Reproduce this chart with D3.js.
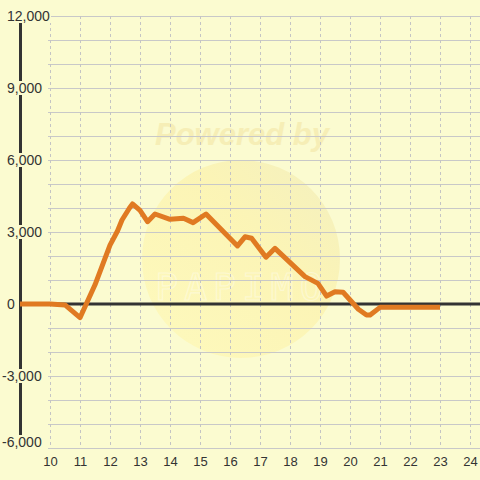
<!DOCTYPE html>
<html><head><meta charset="utf-8">
<script src="https://cdn.jsdelivr.net/npm/d3@7"></script>
<style>html,body{margin:0;padding:0;background:#fafad2;}svg{display:block;}</style>
</head><body>
<svg id="c" width="480" height="480"></svg>
<script>
const xTicks = [10,11,12,13,14,15,16,17,18,19,20,21,22,23,24];
const yTicks = [-6000,-3000,0,3000,6000,9000,12000];
const xs = [9,10,10.5,11,11.5,12,12.25,12.4,12.65,12.75,13,13.25,13.5,14,14.45,14.77,15.2,16.25,16.5,16.72,17.2,17.5,18.5,18.93,19.22,19.5,19.77,20.28,20.55,20.67,21,23];
const vals = [0,0,-40,-570,800,2450,3040,3500,4000,4170,3900,3430,3750,3530,3570,3390,3750,2420,2800,2740,1950,2320,1140,860,330,510,490,-220,-460,-460,-140,-140];

const svg = d3.select("#c");
const W=480,H=480;
const x = d3.scaleLinear().domain([9, 24.333]).range([20, 480]);
const y = d3.scaleLinear().domain([-6000, 12000]).range([448, 16]);
const bg = "#fbfbd0";

svg.append("rect").attr("width",W).attr("height",H).attr("fill",bg);

// watermark
const defs = svg.append("defs");
const g1 = defs.append("linearGradient").attr("id","wm").attr("x1","0").attr("y1","1").attr("x2","1").attr("y2","0");
g1.append("stop").attr("offset","0%").attr("stop-color","#fff8b0").attr("stop-opacity",0.6);
g1.append("stop").attr("offset","60%").attr("stop-color","#fcf0a4").attr("stop-opacity",0.6);
g1.append("stop").attr("offset","100%").attr("stop-color","#eee8b4").attr("stop-opacity",0.6);
svg.append("circle").attr("cx",241).attr("cy",259).attr("r",99).attr("fill","url(#wm)");
svg.append("text").attr("x",242).attr("y",145).attr("text-anchor","middle")
  .attr("font-family","Liberation Sans, Arial, sans-serif").attr("font-size",31)
  .attr("font-weight","bold").attr("font-style","italic")
  .attr("fill","#f3e7a6").attr("opacity",0.6).text("Powered by");
svg.append("text").attr("x",242).attr("y",300).attr("text-anchor","middle")
  .attr("font-family","DejaVu Sans Mono, monospace").attr("font-size",38)
  .attr("fill","none").attr("stroke","#ffffff").attr("stroke-width",1.2).attr("opacity",0.35)
  .attr("letter-spacing",6).text("PAPIMO");

// horizontal gridlines every 1000
const hg = d3.range(-6000, 12001, 1000);
svg.append("g").selectAll("line").data(hg).join("line")
  .attr("x1",48).attr("x2",480).attr("y1",d=>y(d)+0.5).attr("y2",d=>y(d)+0.5)
  .attr("stroke","#c8c8c8").attr("stroke-width",1);

// vertical dashed gridlines
svg.append("g").selectAll("line").data(xTicks).join("line")
  .attr("x1",d=>Math.round(x(d))+0.5).attr("x2",d=>Math.round(x(d))+0.5)
  .attr("y1",16).attr("y2",448)
  .attr("stroke","#c4c4c4").attr("stroke-width",1).attr("stroke-dasharray","3,3");

// zero line
svg.append("line").attr("x1",20).attr("x2",480).attr("y1",y(0)).attr("y2",y(0))
  .attr("stroke","#333").attr("stroke-width",3);

// y axis line
svg.append("line").attr("x1",20.5).attr("x2",20.5).attr("y1",16).attr("y2",448)
  .attr("stroke","#333").attr("stroke-width",3);

// data line
const line = d3.line().x((d,i)=>x(xs[i])).y(d=>y(d)).curve(d3.curveLinear);
svg.append("path").attr("d",line(vals)).attr("fill","none")
  .attr("stroke","#e07a22").attr("stroke-width",5).attr("stroke-linejoin","round").attr("stroke-linecap","butt");

// y labels with background
const fmt = d3.format(",");
const yl = svg.append("g").attr("font-family","Liberation Sans, Arial, sans-serif").attr("font-size",14).attr("fill","#333");
yTicks.forEach(v=>{
  const cy = v === yTicks[0] ? y(v)-6 : y(v);
  const t = yl.append("text").attr("x", v<0?2:7).attr("y", cy+5).text(fmt(v).replace("−","-"));
  const bb = t.node().getBBox();
  yl.insert("rect","text").attr("x",bb.x-1).attr("y",cy-7).attr("width",bb.width+2).attr("height",14).attr("fill",bg);
});

// x labels
svg.append("g").attr("font-family","Liberation Sans, Arial, sans-serif").attr("font-size",13).attr("fill","#333")
  .selectAll("text").data(xTicks).join("text")
  .attr("x",d=>x(d)+0.5).attr("y",466).attr("text-anchor","middle").text(d=>d);
</script>
</body></html>
